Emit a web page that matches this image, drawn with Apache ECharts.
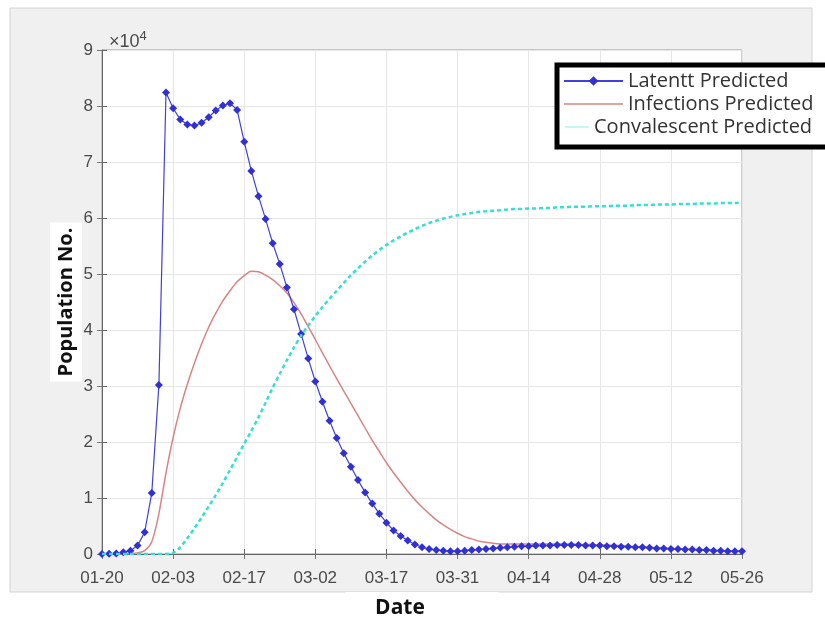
<!DOCTYPE html>
<html>
<head>
<meta charset="utf-8">
<script src="https://cdn.jsdelivr.net/npm/echarts@6/dist/echarts.min.js"></script>
<style>
  html, body { margin: 0; padding: 0; background: #fff; }
  #chartDiv { width: 825px; height: 619px; }
</style>
</head>
<body>
<div id="chartDiv"></div>
<script>
// x ticks: one label every 10 samples
var tickLabels = ['01-20', '02-03', '02-17', '03-02', '03-17', '03-31', '04-14', '04-28', '05-12', '05-26'];

// values in units of 10^4 people, one per sample (91 samples)
var latent = [
	0, 0.005, 0.01, 0.03, 0.06, 0.15, 0.39, 1.09, 3.02, 8.24,
	7.96, 7.76, 7.67, 7.65, 7.70, 7.80, 7.92, 8.01, 8.05, 7.93,
	7.36, 6.84, 6.39, 5.98, 5.55, 5.18, 4.76, 4.37, 3.93, 3.49,
	3.08, 2.72, 2.38, 2.07, 1.80, 1.56, 1.32, 1.10, 0.90, 0.72,
	0.56, 0.42, 0.32, 0.24, 0.17, 0.12, 0.09, 0.07, 0.06, 0.05,
	0.05, 0.06, 0.07, 0.08, 0.09, 0.10, 0.11, 0.12, 0.13, 0.14,
	0.14, 0.15, 0.15, 0.15, 0.16, 0.16, 0.16, 0.16, 0.15, 0.15,
	0.15, 0.14, 0.14, 0.13, 0.13, 0.12, 0.12, 0.11, 0.10, 0.10,
	0.09, 0.09, 0.08, 0.08, 0.07, 0.07, 0.06, 0.06, 0.05, 0.05, 0.05
];
var infected = [
	0, 0, 0, 0, 0.01, 0.02, 0.06, 0.22, 0.72, 1.45,
	2.08, 2.6, 3.03, 3.41, 3.75, 4.05, 4.3, 4.52, 4.7, 4.86,
	4.97, 5.05, 5.04, 4.98, 4.9, 4.79, 4.66, 4.49, 4.29, 4.06,
	3.83, 3.59, 3.36, 3.13, 2.91, 2.69, 2.47, 2.25, 2.03, 1.83,
	1.63, 1.45, 1.28, 1.12, 0.97, 0.84, 0.72, 0.61, 0.52, 0.44,
	0.37, 0.31, 0.27, 0.23, 0.21, 0.19, 0.18, 0.18, 0.18, 0.18,
	0.18, 0.18, 0.18, 0.18, 0.18, 0.18, 0.18, 0.17, 0.17, 0.17,
	0.16, 0.16, 0.15, 0.15, 0.14, 0.13, 0.13, 0.12, 0.11, 0.11,
	0.10, 0.09, 0.09, 0.08, 0.08, 0.07, 0.07, 0.06, 0.06, 0.05, 0.05
];
var recovered = [
	0, 0, 0, 0, 0, 0, 0, 0, 0, 0,
	0.02, 0.12, 0.28, 0.46, 0.65, 0.85, 1.05, 1.27, 1.5, 1.73,
	1.97, 2.2, 2.44, 2.7, 2.97, 3.22, 3.46, 3.69, 3.9, 4.08,
	4.25, 4.41, 4.56, 4.70, 4.84, 4.98, 5.10, 5.22, 5.33, 5.43,
	5.52, 5.60, 5.67, 5.74, 5.80, 5.86, 5.91, 5.95, 5.99, 6.02,
	6.05, 6.07, 6.09, 6.11, 6.12, 6.13, 6.14, 6.15, 6.16, 6.16,
	6.17, 6.17, 6.18, 6.18, 6.19, 6.19, 6.20, 6.20, 6.20, 6.21,
	6.21, 6.21, 6.22, 6.22, 6.22, 6.23, 6.23, 6.23, 6.24, 6.24,
	6.24, 6.25, 6.25, 6.25, 6.26, 6.26, 6.26, 6.27, 6.27, 6.27, 6.28
];

function toPairs(values) {
	var out = [];
	for (var i = 0; i < values.length; i++) {
		out.push([i, values[i]]);
	}
	return out;
}

var chart = echarts.init(document.getElementById('chartDiv'));

var tickFont = { color: '#4a4a4a', fontSize: 17, fontFamily: 'Liberation Sans' };
var legendText = { color: '#333', fontSize: 20, lineHeight: 22, fontFamily: 'Open Sans' };
// plain line sample for series drawn without markers
var lineIcon = 'path://M0,0 H60 V1.4 H0 Z';

var option = {
	backgroundColor: '#fff',
	animation: false,
	graphic: [ {
		type: 'rect',
		z: -10,
		shape: { x: 10, y: 8, width: 802, height: 584 },
		style: { fill: '#f0f0f0', stroke: '#d4d4d4', lineWidth: 1 }
	} ],
	title: {
		text: '×10{sup|4}',
		left: 104,
		top: 25,
		textStyle: {
			color: '#4a4a4a', fontSize: 18, fontWeight: 'normal', fontFamily: tickFont.fontFamily,
			rich: { sup: { fontSize: 13, verticalAlign: 'top', padding: [0, 0, 12, 0], color: '#4a4a4a', fontFamily: tickFont.fontFamily } }
		}
	},
	legend: [ {
		orient: 'vertical',
		left: 557,
		top: 65,
		itemWidth: 59,
		itemHeight: 12,
		itemGap: 1,
		padding: [5, 60, 32, 6],
		backgroundColor: '#fff',
		borderColor: '#000',
		borderWidth: 5,
		textStyle: legendText,
		data: [ 'Latentt Predicted', { name: 'Infections Predicted', icon: lineIcon } ]
	}, {
		orient: 'vertical',
		left: 565,
		top: 116,
		itemWidth: 24,
		itemHeight: 12,
		padding: 0,
		textStyle: legendText,
		data: [ { name: 'Convalescent Predicted', icon: lineIcon } ]
	} ],
	grid: {
		left: 102,
		right: 83,
		top: 50,
		bottom: 65,
		outerBoundsMode: 'none',
		show: true,
		backgroundColor: '#fff',
		borderColor: '#9a9a9a',
		borderWidth: 1
	},
	xAxis: [ {
		type: 'value',
		min: 0,
		max: 90,
		interval: 10,
		name: 'Date',
		nameLocation: 'middle',
		nameGap: 35,
		nameTextStyle: {
			color: '#111', fontSize: 21, fontWeight: 'bold', fontFamily: 'Open Sans',
			backgroundColor: '#fff', padding: [6, 74, 10, 30]
		},
		axisLine: { lineStyle: { color: '#666' } },
		axisTick: { inside: true, length: 5, lineStyle: { color: '#666' } },
		axisLabel: {
			margin: 16,
			formatter: function (v) { return tickLabels[Math.round(v / 10)]; },
			color: tickFont.color, fontSize: tickFont.fontSize, fontFamily: tickFont.fontFamily
		},
		splitLine: { show: true, lineStyle: { color: '#e6e6e6' } }
	}, {
		type: 'value',
		position: 'top',
		min: 0,
		max: 90,
		interval: 10,
		axisLine: { show: false },
		axisTick: { show: true, inside: true, length: 5, lineStyle: { color: '#777' } },
		axisLabel: { show: false },
		splitLine: { show: false }
	} ],
	yAxis: [ {
		type: 'value',
		min: 0,
		max: 9,
		interval: 1,
		name: 'Population No.',
		nameLocation: 'middle',
		nameMoveOverlap: false,
		nameGap: 20,
		nameTextStyle: {
			color: '#111', fontSize: 20, fontWeight: 'bold', fontFamily: 'Open Sans',
			backgroundColor: '#fff', padding: [6, 5, 6, 5]
		},
		axisLine: { show: true, lineStyle: { color: '#666' } },
		axisTick: { show: true, inside: true, length: 5, lineStyle: { color: '#666' } },
		axisLabel: {
			margin: 9,
			color: tickFont.color, fontSize: tickFont.fontSize, fontFamily: tickFont.fontFamily
		},
		splitLine: { show: true, lineStyle: { color: '#e6e6e6' } }
	}, {
		type: 'value',
		position: 'right',
		min: 0,
		max: 9,
		interval: 1,
		axisLine: { show: false },
		axisTick: { show: true, inside: true, length: 5, lineStyle: { color: '#777' } },
		axisLabel: { show: false },
		splitLine: { show: false }
	} ],
	series: [ {
		name: 'Latentt Predicted',
		type: 'line',
		data: toPairs(latent),
		symbol: 'diamond',
		symbolSize: 8,
		showAllSymbol: true,
		itemStyle: { color: '#3030d4' },
		lineStyle: { color: '#4040da', width: 1.2 },
		z: 3
	}, {
		name: 'Infections Predicted',
		type: 'line',
		data: toPairs(infected),
		smooth: 0.3,
		symbol: 'none',
		itemStyle: { color: '#d98484' },
		lineStyle: { color: '#d98484', width: 1.5 },
		z: 2
	}, {
		name: 'Convalescent Predicted',
		type: 'line',
		data: toPairs(recovered),
		smooth: 0.3,
		symbol: 'none',
		itemStyle: { color: '#33e0d4' },
		lineStyle: { color: '#33e0d4', width: 2.5, type: [4, 3] },
		z: 4
	} ]
};

chart.setOption(option);
</script>
</body>
</html>
